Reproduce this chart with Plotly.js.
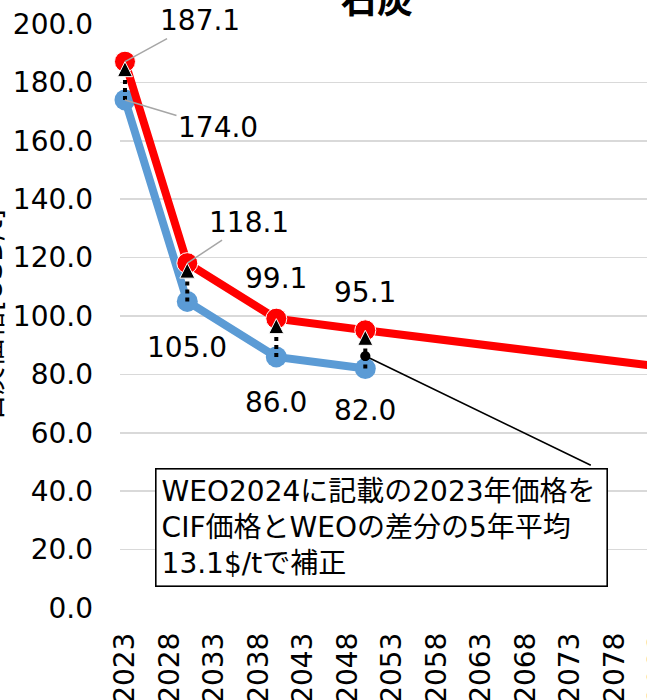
<!DOCTYPE html>
<html>
<head>
<meta charset="utf-8">
<script src="https://cdn.plot.ly/plotly-3.0.1.min.js"></script>
<style>
  html, body { margin: 0; padding: 0; overflow: hidden; background: #fff; width: 647px; height: 700px; }
  #chart { position: absolute; left: -40px; top: -28px; width: 820px; height: 780px; }
</style>
</head>
<body>
<div id="chart"></div>
<script>
// ---- data ----
const years = [2023, 2030, 2040, 2050];
const weoPrice = [174.0, 105.0, 86.0, 82.0];            // WEO2024 (blue)
const correctedPrice = [187.1, 118.1, 99.1, 95.1];      // corrected (+13.1, red)
const correctedTailYear = [2090];                        // red line continues past 2050
const correctedTailValue = [80.1];
const tickYears = [2023, 2028, 2033, 2038, 2043, 2048, 2053, 2058, 2063, 2068, 2073, 2078, 2083, 2088];
const calloutTarget = [2050, 86.3];
const titleText = '石炭';
const yTitleText = '石炭価格[USD/t]';
const noteText = 'WEO2024に記載の2023年価格を<br>CIF価格とWEOの差分の5年平均<br>13.1$/tで補正';

// ---- styles ----
const FONT = 'DejaVu Sans, Noto Sans CJK JP, sans-serif';
const RED = '#FF0000';
const BLUE = '#5B9BD5';

const redX = years.concat(correctedTailYear);
const redY = correctedPrice.concat(correctedTailValue);
const redSizes = redX.map((_, i) => i < years.length ? 21 : 0);

const traces = [
  { x: years, y: weoPrice, type: 'scatter', mode: 'lines+markers',
    line: { color: BLUE, width: 8 }, marker: { color: BLUE, size: 21, opacity: 1 },
    hoverinfo: 'x+y', cliponaxis: false },
  { x: redX, y: redY, type: 'scatter', mode: 'lines+markers',
    line: { color: RED, width: 8 }, marker: { color: RED, size: redSizes, opacity: 1 },
    hoverinfo: 'x+y', cliponaxis: false }
];
years.forEach((yr, i) => {
  traces.push({
    x: [yr, yr], y: [weoPrice[i], correctedPrice[i]], type: 'scatter', mode: 'lines+markers',
    line: { color: '#000', width: 4, dash: 'dot' },
    marker: { color: '#000', symbol: ['circle', 'arrow-up'], size: [0, 15], opacity: 1 },
    hoverinfo: 'skip', cliponaxis: false
  });
});

// label offsets (px) for each point: [dx, dy (screen, +down), leader?]
const redLabelStyle = [[75, -41, true], [62, -41, true], [0, -40, false], [0, -38, false]];
const blueLabelStyle = [[93, 28, true], [0, 46, false], [0, 46, false], [0, 42, false]];

const annotations = [];
function addLabel(x, y, txt, st) {
  if (st[2]) {
    annotations.push({ x: x, y: y, xref: 'x', yref: 'y', text: txt, showarrow: true,
      ax: st[0], ay: st[1], arrowhead: 0, arrowwidth: 1.5, arrowcolor: '#a6a6a6', standoff: 0,
      font: { family: FONT, size: 28, color: '#000' } });
  } else {
    annotations.push({ x: x, y: y, xref: 'x', yref: 'y', text: txt, showarrow: false,
      yshift: -st[1], xshift: st[0],
      font: { family: FONT, size: 28, color: '#000' } });
  }
}
years.forEach((yr, i) => {
  addLabel(yr, correctedPrice[i], correctedPrice[i].toFixed(1), redLabelStyle[i]);
  addLabel(yr, weoPrice[i], weoPrice[i].toFixed(1), blueLabelStyle[i]);
});
// callout line with dot
annotations.push({ x: calloutTarget[0], y: calloutTarget[1], xref: 'x', yref: 'y', text: '',
  showarrow: true, ax: 227, ay: 110, arrowhead: 6, arrowsize: 1.6, arrowwidth: 1.6,
  arrowcolor: '#000', standoff: 0 });
// note box
annotations.push({ x: 0.435, y: 0.137, xref: 'paper', yref: 'paper', xanchor: 'center', yanchor: 'middle',
  text: noteText, showarrow: false, align: 'left', width: 440, borderpad: 5,
  bordercolor: '#000', borderwidth: 1.6, bgcolor: '#fff',
  font: { family: FONT, size: 28, color: '#000' } });

const layout = {
  width: 820, height: 780,
  margin: { l: 160, r: 60, t: 52, b: 144 },
  paper_bgcolor: '#fff', plot_bgcolor: '#fff',
  showlegend: false,
  font: { family: FONT, size: 28, color: '#000' },
  title: { text: '<b>' + titleText + '</b>', font: { family: FONT, size: 36, color: '#000' },
    xref: 'container', x: 0.5085, xanchor: 'center', yref: 'container', y: 1 - 28 / 780, yanchor: 'middle' },
  xaxis: {
    range: [2022.44, 2089.85], tickvals: tickYears, ticktext: tickYears.map(String),
    tickangle: -90, showgrid: false, zeroline: false, showline: false, ticks: '',
    ticklabelstandoff: 18, tickfont: { family: FONT, size: 28, color: '#000' }
  },
  yaxis: {
    range: [0, 200], dtick: 20, tick0: 0, tickformat: '.1f',
    showgrid: true, gridcolor: '#d9d9d9', gridwidth: 1.5, zeroline: false, showline: false, ticks: '',
    ticklabelstandoff: 26, tickfont: { family: FONT, size: 28, color: '#000' },
    title: { text: yTitleText, standoff: 2, font: { family: FONT, size: 28, color: '#000' } }
  },
  annotations: annotations
};

Plotly.newPlot('chart', traces, layout, { staticPlot: true, displayModeBar: false });
</script>
</body>
</html>
